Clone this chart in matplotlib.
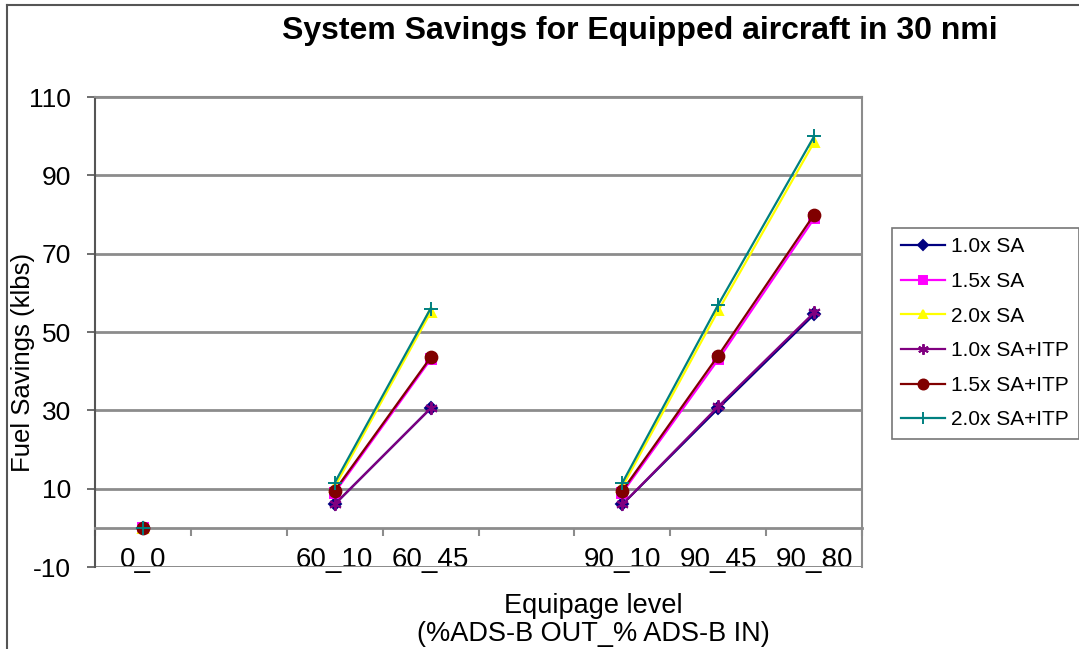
import numpy as np
import matplotlib
matplotlib.use("Agg")
import matplotlib.pyplot as plt
from matplotlib.lines import Line2D

# ---------- data ----------
categories = ["0_0", "", "60_10", "60_45", "", "90_10", "90_45", "90_80"]
nan = np.nan
sa_10     = [0, nan, 6.0,  30.5, nan, 6.0,  30.5, 54.5]
sa_15     = [0, nan, 9.0,  43.0, nan, 9.0,  43.0, 79.0]
sa_20     = [0, nan, 10.5, 55.0, nan, 10.5, 55.5, 98.5]
sa_itp_10 = [0, nan, 6.0,  30.5, nan, 6.0,  31.0, 55.0]
sa_itp_15 = [0, nan, 9.5,  43.5, nan, 9.5,  44.0, 80.0]
sa_itp_20 = [0, nan, 11.5, 56.0, nan, 11.5, 57.0, 100.0]
yticks = [-10, 10, 30, 50, 70, 90, 110]

series = [
    ("1.0x SA",     sa_10,     "#000080", "D",        6),
    ("1.5x SA",     sa_15,     "#FF00FF", "s",        7.5),
    ("2.0x SA",     sa_20,     "#FFFF00", "^",        7.5),
    ("1.0x SA+ITP", sa_itp_10, "#800080", (6, 2, 0),  9),
    ("1.5x SA+ITP", sa_itp_15, "#800000", "o",        8.5),
    ("2.0x SA+ITP", sa_itp_20, "#008080", "+",        9.5),
]

plt.rcParams["font.family"] = ["Liberation Sans", "DejaVu Sans"]
plt.rcParams["axes.unicode_minus"] = False

fig = plt.figure(figsize=(10.79, 6.49), dpi=100)
ax = fig.add_axes([0.088, 0.1263, 0.711, 0.7242])

x = np.arange(len(categories))
for name, vals, col, mk, ms in series:
    ax.plot(x, vals, color=col, lw=1.6, marker=mk, ms=ms, mew=1.4,
            label=name, clip_on=False, zorder=3)

ax.set_xlim(-0.5, len(categories) - 0.5)
ax.set_ylim(-10, 110)
ax.set_yticks(yticks)
ax.tick_params(axis="y", labelsize=19, length=6, width=1.2,
               color="#555555", pad=11)
ax.yaxis.grid(True, color="#8c8c8c", lw=2)
ax.set_axisbelow(True)

# category axis crosses at 0
ax.spines["bottom"].set_position(("data", 0))
ax.spines["bottom"].set_color("#8c8c8c")
ax.spines["bottom"].set_linewidth(2)
ax.set_xticks(np.arange(len(categories) + 1) - 0.5)
ax.set_xticklabels([])
ax.tick_params(axis="x", which="major", direction="out", length=6,
               width=1.5, color="#8c8c8c")
ax.set_xticks(x, minor=True)
ax.set_xticklabels(categories, minor=True)
ax.tick_params(axis="x", which="minor", length=0, labelsize=20, pad=14)

ax.spines["left"].set_color("#555555")
ax.spines["left"].set_linewidth(1.5)
for s in ("top", "right"):
    ax.spines[s].set_color("#8c8c8c")
    ax.spines[s].set_linewidth(1.5)
ax.axhline(-10, color="#8c8c8c", lw=2, zorder=1)

fig.text(0.593, 0.953, "System Savings for Equipped aircraft in 30 nmi",
         ha="center", va="center", fontsize=23, fontweight="bold")
fig.text(0.021, 1 - 362 / 649, "Fuel Savings (klbs)", rotation=90,
         ha="center", va="center", fontsize=18.5)
fig.text(0.55, 1 - 606 / 649, "Equipage level", ha="center",
         va="center", fontsize=19.5)
fig.text(0.55, 1 - 634 / 649, "(%ADS-B OUT_% ADS-B IN)", ha="center",
         va="center", fontsize=19.5)

leg = fig.legend(loc="upper left", bbox_to_anchor=(0.8267, 0.6487),
                 fontsize=15, frameon=True, fancybox=False,
                 handlelength=2.1, labelspacing=0.75, borderpad=0.45,
                 handletextpad=0.3, borderaxespad=0, markerscale=0.85)
leg.get_frame().set_edgecolor("#555555")
leg.get_frame().set_linewidth(1.2)

# outer chart frame (left and top edges visible)
fig.add_artist(Line2D([7 / 1079, 7 / 1079], [0, 1 - 5 / 649],
                      color="#555555", lw=1.5, transform=fig.transFigure))
fig.add_artist(Line2D([7 / 1079, 1], [1 - 5 / 649, 1 - 5 / 649],
                      color="#555555", lw=1.5, transform=fig.transFigure))

fig.savefig("out.png", dpi=100)
